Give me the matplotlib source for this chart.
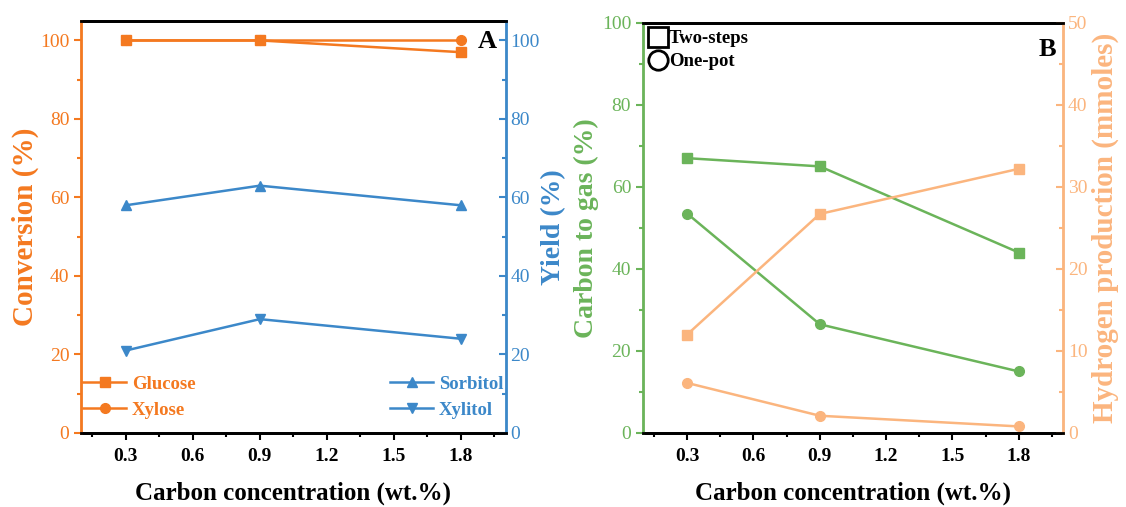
import numpy as np
import matplotlib.pyplot as plt
from matplotlib.lines import Line2D

plt.rcParams['font.family'] = ['Liberation Serif', 'DejaVu Serif']
plt.rcParams['font.weight'] = 'bold'

# данні
carbon = [0.3, 0.9, 1.8]
glucose = [100, 100, 97]
xylose = [100, 100, 100]
sorbitol = [58, 63, 58]
xylitol = [21, 29, 24]

gas_two = [67, 65, 44]
gas_one = [53.5, 26.5, 15]
h2_two = [12, 26.7, 32.2]
h2_one = [6.1, 2.1, 0.8]

c_or = '#F47920'
c_bl = '#3C88C9'
c_gr = '#6BB45A'
c_lo = '#FBB57E'

fig = plt.figure(figsize=(11.26, 5.07), dpi=100)

def setup_x(ax):
    ax.set_xlim(0.10, 2.0)
    ax.set_xticks([0.3, 0.6, 0.9, 1.2, 1.5, 1.8])
    ax.set_xticks(np.arange(0.15, 2.0, 0.3), minor=True)
    ax.tick_params(axis='x', direction='out', length=5, width=1.5, labelsize=14, pad=6)
    ax.tick_params(axis='x', which='minor', direction='out', length=3, width=1.5)
    ax.set_xlabel('Carbon concentration (wt.%)', fontsize=18, fontweight='bold', labelpad=12)
    ax.spines['bottom'].set_linewidth(2)
    ax.spines['top'].set_linewidth(2)
    ax.spines['top'].set_color('black')

def ytick_style(ax, col, direction):
    ax.tick_params(axis='y', colors=col, labelsize=14, length=5, width=1.5, direction=direction)
    ax.tick_params(axis='y', which='minor', colors=col, length=3, width=1.5, direction=direction)
    for t in ax.get_yticklabels():
        t.set_fontweight('normal')

# панель A
ax1 = fig.add_axes([0.072, 0.146, 0.377, 0.813])
ax2 = ax1.twinx()
l1, = ax1.plot(carbon, glucose, '-s', color=c_or, lw=1.8, ms=7, label='Glucose')
l2, = ax1.plot(carbon, xylose, '-o', color=c_or, lw=1.8, ms=7, label='Xylose')
l3, = ax2.plot(carbon, sorbitol, '-^', color=c_bl, lw=1.8, ms=7, label='Sorbitol')
l4, = ax2.plot(carbon, xylitol, '-v', color=c_bl, lw=1.8, ms=7, label='Xylitol')
setup_x(ax1)
for ax in (ax1, ax2):
    ax.set_ylim(0, 105)
    ax.set_yticks([0, 20, 40, 60, 80, 100])
    ax.set_yticks(np.arange(10, 100, 20), minor=True)
ytick_style(ax1, c_or, 'out')
ytick_style(ax2, c_bl, 'in')
ax2.spines['left'].set_color(c_or)
ax2.spines['left'].set_linewidth(2)
ax2.spines['right'].set_color(c_bl)
ax2.spines['right'].set_linewidth(2)
ax2.spines['bottom'].set_linewidth(2)
ax2.spines['top'].set_linewidth(2)
ax1.set_ylabel('Conversion (%)', color=c_or, fontsize=21, fontweight='bold', labelpad=1)
ax2.set_ylabel('Yield (%)', color=c_bl, fontsize=20, fontweight='bold', labelpad=1)
leg = ax1.legend(handles=[l1, l2], loc='lower left', bbox_to_anchor=(0.005, 0.035),
                 frameon=False, fontsize=13.5, handlelength=2.3, borderaxespad=0,
                 borderpad=0, labelspacing=0.45, handletextpad=0.3)
for t in leg.get_texts():
    t.set_color(c_or)
leg2 = ax2.legend(handles=[l3, l4], loc='lower right', bbox_to_anchor=(0.995, 0.035),
                  frameon=False, fontsize=13.5, handlelength=2.3, borderaxespad=0,
                  borderpad=0, labelspacing=0.45, handletextpad=0.3)
for t in leg2.get_texts():
    t.set_color(c_bl)
ax1.text(0.98, 0.95, 'A', transform=ax1.transAxes, fontsize=19, fontweight='bold',
         ha='right', va='center')

# панель B
ax3 = fig.add_axes([0.571, 0.146, 0.373, 0.809])
ax4 = ax3.twinx()
ax3.plot(carbon, gas_two, '-s', color=c_gr, lw=1.8, ms=7)
ax3.plot(carbon, gas_one, '-o', color=c_gr, lw=1.8, ms=7)
ax4.plot(carbon, h2_two, '-s', color=c_lo, lw=1.8, ms=7)
ax4.plot(carbon, h2_one, '-o', color=c_lo, lw=1.8, ms=7)
setup_x(ax3)
ax3.set_ylim(0, 100)
ax3.set_yticks([0, 20, 40, 60, 80, 100])
ax3.set_yticks(np.arange(10, 100, 20), minor=True)
ax4.set_ylim(0, 50)
ax4.set_yticks([0, 10, 20, 30, 40, 50])
ax4.set_yticks(np.arange(5, 50, 10), minor=True)
ytick_style(ax3, c_gr, 'out')
ytick_style(ax4, c_lo, 'in')
ax4.spines['left'].set_color(c_gr)
ax4.spines['left'].set_linewidth(2)
ax4.spines['right'].set_color(c_lo)
ax4.spines['right'].set_linewidth(2)
ax4.spines['bottom'].set_linewidth(2)
ax4.spines['top'].set_linewidth(2)
ax3.set_ylabel('Carbon to gas (%)', color=c_gr, fontsize=20, fontweight='bold', labelpad=2)
ax4.set_ylabel('Hydrogen production (mmoles)', color=c_lo, fontsize=21, fontweight='bold', labelpad=3)
hb = [Line2D([], [], ls='none', marker='s', mfc='none', mec='black', ms=14, mew=2),
      Line2D([], [], ls='none', marker='o', mfc='none', mec='black', ms=14, mew=2)]
ax3.legend(hb, ['Two-steps', 'One-pot'], loc='upper left', frameon=False, fontsize=13.5,
           handlelength=0.8, handletextpad=0.2, borderaxespad=0.3, borderpad=0.1,
           labelspacing=0.3)
ax3.text(0.985, 0.935, 'B', transform=ax3.transAxes, fontsize=19, fontweight='bold',
         ha='right', va='center')

fig.savefig('out.png', dpi=100)
